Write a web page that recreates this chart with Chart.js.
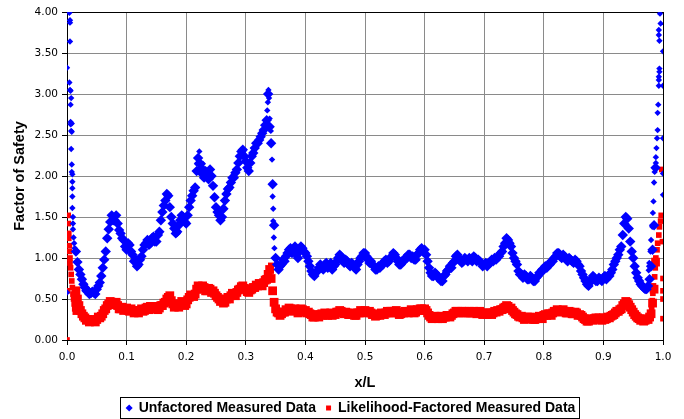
<!DOCTYPE html>
<html>
<head>
<meta charset="utf-8">
<script src="https://cdn.jsdelivr.net/npm/chart.js@4/dist/chart.umd.min.js"></script>
<style>
  body { margin: 0; background: #fff; }
</style>
</head>
<body>
<canvas id="myChart" width="684" height="419"></canvas>
<script>
// x/L positions of the readings (two interleaved runs)
var xl = [
  0.015,0.02,0.025,0.03,0.035,0.04,0.045,0.05,0.055,0.06,
  0.065,0.07,0.075,0.08,0.085,0.09,0.095,0.1,0.105,0.11,
  0.115,0.12,0.125,0.13,0.135,0.14,0.145,0.15,0.155,0.16,
  0.165,0.17,0.175,0.18,0.185,0.19,0.195,0.2,0.205,0.21,
  0.215,0.22,0.225,0.23,0.235,0.24,0.245,0.25,0.255,0.26,
  0.265,0.27,0.275,0.28,0.285,0.29,0.295,0.3,0.305,0.31,
  0.315,0.32,0.325,0.33,0.335,0.34,0.345,0.35,0.355,0.36,
  0.365,0.37,0.375,0.38,0.385,0.39,0.395,0.4,0.405,0.41,
  0.415,0.42,0.425,0.43,0.435,0.44,0.445,0.45,0.455,0.46,
  0.465,0.47,0.475,0.48,0.485,0.49,0.495,0.5,0.505,0.51,
  0.515,0.52,0.525,0.53,0.535,0.54,0.545,0.55,0.555,0.56,
  0.565,0.57,0.575,0.58,0.585,0.59,0.595,0.6,0.605,0.61,
  0.615,0.62,0.625,0.63,0.635,0.64,0.645,0.65,0.655,0.66,
  0.665,0.67,0.675,0.68,0.685,0.69,0.695,0.7,0.705,0.71,
  0.715,0.72,0.725,0.73,0.735,0.74,0.745,0.75,0.755,0.76,
  0.765,0.77,0.775,0.78,0.785,0.79,0.795,0.8,0.805,0.81,
  0.815,0.82,0.825,0.83,0.835,0.84,0.845,0.85,0.855,0.86,
  0.865,0.87,0.875,0.88,0.885,0.89,0.895,0.9,0.905,0.91,
  0.915,0.92,0.925,0.93,0.935,0.94,0.945,0.95,0.955,0.96,
  0.965,0.97,0.975,0.98,0.985
];
var xl2 = [
  0.0175,0.0225,0.0275,0.0325,0.0375,0.0425,0.0475,0.0525,0.0575,0.0625,
  0.0675,0.0725,0.0775,0.0825,0.0875,0.0925,0.0975,0.1025,0.1075,0.1125,
  0.1175,0.1225,0.1275,0.1325,0.1375,0.1425,0.1475,0.1525,0.1575,0.1625,
  0.1675,0.1725,0.1775,0.1825,0.1875,0.1925,0.1975,0.2025,0.2075,0.2125,
  0.2175,0.2225,0.2275,0.2325,0.2375,0.2425,0.2475,0.2525,0.2575,0.2625,
  0.2675,0.2725,0.2775,0.2825,0.2875,0.2925,0.2975,0.3025,0.3075,0.3125,
  0.3175,0.3225,0.3275,0.3325,0.3375,0.3425,0.3475,0.3525,0.3575,0.3625,
  0.3675,0.3725,0.3775,0.3825,0.3875,0.3925,0.3975,0.4025,0.4075,0.4125,
  0.4175,0.4225,0.4275,0.4325,0.4375,0.4425,0.4475,0.4525,0.4575,0.4625,
  0.4675,0.4725,0.4775,0.4825,0.4875,0.4925,0.4975,0.5025,0.5075,0.5125,
  0.5175,0.5225,0.5275,0.5325,0.5375,0.5425,0.5475,0.5525,0.5575,0.5625,
  0.5675,0.5725,0.5775,0.5825,0.5875,0.5925,0.5975,0.6025,0.6075,0.6125,
  0.6175,0.6225,0.6275,0.6325,0.6375,0.6425,0.6475,0.6525,0.6575,0.6625,
  0.6675,0.6725,0.6775,0.6825,0.6875,0.6925,0.6975,0.7025,0.7075,0.7125,
  0.7175,0.7225,0.7275,0.7325,0.7375,0.7425,0.7475,0.7525,0.7575,0.7625,
  0.7675,0.7725,0.7775,0.7825,0.7875,0.7925,0.7975,0.8025,0.8075,0.8125,
  0.8175,0.8225,0.8275,0.8325,0.8375,0.8425,0.8475,0.8525,0.8575,0.8625,
  0.8675,0.8725,0.8775,0.8825,0.8875,0.8925,0.8975,0.9025,0.9075,0.9125,
  0.9175,0.9225,0.9275,0.9325,0.9375,0.9425,0.9475,0.9525,0.9575,0.9625,
  0.9675,0.9725,0.9775,0.9825,0.9875
];

var unfactored = [
  1.08,0.86,0.74,0.64,0.60,0.57,0.58,0.62,0.70,0.88,
  1.08,1.35,1.52,1.46,1.42,1.30,1.22,1.10,1.16,1.04,
  0.98,0.92,1.02,1.16,1.22,1.18,1.26,1.20,1.32,1.56,
  1.70,1.76,1.50,1.36,1.32,1.46,1.50,1.42,1.62,1.76,
  1.86,2.22,2.10,1.98,2.00,2.08,1.88,1.62,1.52,1.50,
  1.70,1.84,1.92,1.98,2.08,2.24,2.32,2.18,2.06,2.24,
  2.34,2.40,2.48,2.56,2.68,2.60,1.90,1.00,0.86,0.92,
  0.96,1.06,1.12,1.10,1.04,1.08,1.12,1.06,0.96,0.84,
  0.78,0.84,0.92,0.86,0.94,0.90,0.86,0.92,1.00,1.02,
  0.94,0.96,0.90,0.92,0.86,0.96,1.02,1.06,0.98,0.96,
  0.90,0.86,0.88,0.92,0.98,0.96,1.02,1.04,0.96,0.92,
  0.96,1.00,1.04,1.02,0.98,1.06,1.12,1.10,0.96,0.82,
  0.78,0.80,0.76,0.72,0.80,0.86,0.88,0.96,1.04,0.98,
  0.96,0.98,1.00,0.96,1.00,0.98,0.94,0.92,0.90,0.94,
  0.96,0.98,1.02,1.08,1.18,1.22,1.14,1.00,0.92,0.80,
  0.76,0.78,0.74,0.76,0.72,0.78,0.82,0.86,0.88,0.92,
  0.96,1.02,1.06,1.00,1.02,0.96,0.98,0.94,0.96,0.90,
  0.80,0.72,0.66,0.74,0.76,0.72,0.74,0.76,0.74,0.78,
  0.86,0.96,1.04,1.14,1.42,1.48,1.20,1.00,0.82,0.72,
  0.66,0.62,0.66,0.90,1.40
];
var unfactored2 = [
  0.95,0.80,0.68,0.60,0.56,0.59,0.56,0.66,0.78,0.98,
  1.24,1.44,1.46,1.52,1.34,1.24,1.14,1.18,1.08,0.96,
  0.90,0.98,1.10,1.18,1.16,1.24,1.20,1.28,1.46,1.64,
  1.78,1.62,1.42,1.30,1.40,1.52,1.44,1.52,1.70,1.82,
  2.06,2.16,2.02,2.06,1.96,2.00,1.74,1.56,1.46,1.60,
  1.78,1.86,1.98,2.04,2.16,2.30,2.24,2.10,2.16,2.28,
  2.40,2.44,2.52,2.62,3.00,2.40,1.40,0.92,0.90,0.98,
  1.02,1.10,1.06,1.14,1.00,1.14,1.08,1.02,0.90,0.80,
  0.82,0.88,0.88,0.92,0.88,0.94,0.90,0.96,1.04,0.98,
  0.98,0.92,0.94,0.88,0.92,1.00,1.06,1.02,0.94,0.92,
  0.86,0.90,0.92,0.96,0.94,1.00,1.06,1.00,0.92,0.96,
  1.00,1.04,1.00,0.98,1.04,1.10,1.08,1.04,0.88,0.78,
  0.82,0.76,0.72,0.78,0.84,0.90,0.94,1.02,1.00,0.94,
  1.00,0.96,0.98,1.02,0.96,0.96,0.90,0.94,0.94,0.98,
  1.00,1.02,1.06,1.14,1.24,1.18,1.06,0.96,0.84,0.80,
  0.80,0.74,0.78,0.72,0.76,0.82,0.86,0.90,0.92,0.96,
  1.00,1.06,1.02,1.04,0.98,1.00,0.96,0.98,0.92,0.84,
  0.76,0.68,0.70,0.78,0.72,0.76,0.72,0.78,0.78,0.82,
  0.92,1.00,1.10,1.28,1.50,1.36,1.08,0.90,0.76,0.68,
  0.64,0.62,0.74,1.10,2.10
];

var factored = [
  0.60,0.42,0.32,0.27,0.25,0.23,0.24,0.25,0.27,0.32,
  0.38,0.44,0.46,0.44,0.42,0.38,0.36,0.39,0.35,0.36,
  0.34,0.33,0.38,0.36,0.40,0.41,0.38,0.40,0.39,0.42,
  0.46,0.52,0.48,0.40,0.42,0.44,0.45,0.44,0.52,0.54,
  0.56,0.66,0.62,0.64,0.60,0.62,0.60,0.54,0.50,0.48,
  0.46,0.52,0.54,0.56,0.58,0.62,0.66,0.62,0.58,0.62,
  0.64,0.66,0.68,0.70,0.74,0.86,0.60,0.38,0.33,0.32,
  0.34,0.36,0.38,0.37,0.36,0.35,0.37,0.36,0.34,0.31,
  0.28,0.30,0.31,0.30,0.32,0.31,0.30,0.31,0.34,0.35,
  0.32,0.33,0.31,0.32,0.30,0.33,0.35,0.36,0.34,0.33,
  0.31,0.30,0.30,0.32,0.33,0.33,0.35,0.35,0.33,0.32,
  0.33,0.34,0.35,0.35,0.34,0.36,0.38,0.38,0.33,0.28,
  0.27,0.28,0.27,0.26,0.28,0.30,0.30,0.33,0.35,0.34,
  0.33,0.34,0.35,0.33,0.34,0.34,0.33,0.32,0.31,0.33,
  0.33,0.34,0.35,0.37,0.40,0.41,0.39,0.34,0.31,0.28,
  0.27,0.27,0.26,0.27,0.25,0.27,0.28,0.30,0.30,0.32,
  0.33,0.35,0.36,0.35,0.35,0.33,0.34,0.32,0.33,0.31,
  0.28,0.25,0.23,0.26,0.26,0.25,0.26,0.27,0.26,0.27,
  0.30,0.33,0.35,0.38,0.44,0.46,0.40,0.34,0.29,0.26,
  0.25,0.24,0.25,0.32,0.62
];
var factored2 = [
  0.50,0.36,0.29,0.24,0.22,0.25,0.22,0.28,0.29,0.36,
  0.42,0.47,0.43,0.46,0.38,0.40,0.38,0.36,0.38,0.33,
  0.36,0.36,0.35,0.39,0.37,0.39,0.41,0.37,0.42,0.45,
  0.50,0.54,0.44,0.43,0.40,0.47,0.42,0.49,0.55,0.53,
  0.62,0.64,0.66,0.60,0.63,0.58,0.57,0.52,0.47,0.45,
  0.50,0.50,0.57,0.54,0.61,0.65,0.63,0.59,0.61,0.64,
  0.67,0.69,0.66,0.73,0.80,0.75,0.46,0.34,0.30,0.34,
  0.37,0.39,0.35,0.38,0.33,0.38,0.34,0.33,0.32,0.28,
  0.31,0.28,0.32,0.33,0.30,0.33,0.32,0.34,0.36,0.33,
  0.34,0.31,0.33,0.30,0.33,0.36,0.34,0.33,0.35,0.31,
  0.29,0.32,0.33,0.31,0.35,0.35,0.33,0.36,0.31,0.34,
  0.35,0.33,0.37,0.33,0.37,0.38,0.36,0.36,0.30,0.26,
  0.29,0.26,0.29,0.28,0.30,0.28,0.32,0.35,0.33,0.35,
  0.35,0.33,0.33,0.35,0.32,0.35,0.31,0.33,0.33,0.31,
  0.35,0.36,0.37,0.39,0.42,0.38,0.36,0.32,0.29,0.29,
  0.25,0.28,0.28,0.25,0.27,0.29,0.26,0.31,0.32,0.30,
  0.35,0.37,0.34,0.37,0.33,0.35,0.32,0.34,0.30,0.30,
  0.26,0.23,0.25,0.24,0.27,0.27,0.24,0.25,0.28,0.29,
  0.31,0.35,0.37,0.42,0.47,0.43,0.37,0.31,0.27,0.24,
  0.23,0.26,0.28,0.45,0.95
];

// steep ends of the beam and the jump near x/L = 0.34, read point by point
var unfExtraX = [0.000,0.000,0.004,0.005,0.005,0.005,0.004,0.005,0.006,0.007,0.006,0.006,0.006,0.007,0.007,0.008,0.008,0.008,0.008,0.009,0.009,0.009,0.009,0.009,0.010,0.010,0.010,0.011,0.012,0.013,
  0.218,0.222,0.228,0.336,0.337,0.338,0.339,0.340,0.342,0.344,0.345,0.346,0.346,0.347,0.348,
  0.976,0.977,0.979,0.980,0.982,0.983,0.984,0.985,0.986,0.988,0.988,0.989,0.990,0.991,0.991,0.992,0.993,0.993,0.993,0.994,0.994,0.994,0.993,0.993,0.996,0.995,1.000,1.000,1.000,1.000,1.000];
var unfExtraY = [3.32,0.58,3.99,3.90,3.87,3.64,3.14,3.05,3.04,2.95,2.87,2.66,2.63,2.55,2.33,2.64,2.54,2.14,2.05,2.02,1.93,1.85,1.75,1.61,1.50,1.42,1.35,1.25,1.18,1.12,
  2.15,2.30,2.15,2.80,2.90,3.05,2.95,2.70,2.55,2.20,1.75,1.60,1.45,1.25,1.12,
  0.85,0.94,1.08,1.22,1.38,1.55,1.69,1.92,2.05,2.16,2.23,2.34,2.46,2.56,2.77,2.87,3.10,3.17,3.21,3.27,3.31,3.65,3.72,3.78,3.86,3.98,3.52,3.10,2.46,2.03,1.77];

var facExtraX = [0.000,0.001,0.002,0.002,0.003,0.003,0.004,0.004,0.005,0.005,0.006,0.007,0.008,0.009,0.010,0.011,0.012,0.013,0.014,
  0.342,
  0.980,0.981,0.982,0.983,0.984,0.986,0.987,0.988,0.990,0.991,0.993,0.994,0.996,0.997,0.998,1.000,1.000,1.000,1.000,0.999];
var facExtraY = [0.00,0.60,1.52,1.42,1.30,1.24,1.15,1.08,1.00,0.94,0.88,0.80,0.72,0.64,0.56,0.50,0.44,0.38,0.34,
  0.91,
  0.32,0.40,0.48,0.57,0.66,0.77,0.88,1.00,1.10,1.18,1.28,1.38,1.45,1.52,2.08,0.26,0.50,0.60,0.75,1.20];

var xTicks = [0, 0.1, 0.2, 0.3, 0.4, 0.5, 0.6, 0.7, 0.8, 0.9, 1.0];
var yTicks = [0, 0.5, 1, 1.5, 2, 2.5, 3, 3.5, 4];

function pts(xs, ys) {
  var out = [];
  for (var i = 0; i < xs.length; i++) out.push({x: xs[i], y: ys[i]});
  return out;
}

// dense runs get fat markers so the band fills in, lone points stay small
var bandCount = xl.length + xl2.length;
function markerSize(big, small) {
  return function(c) { return c.dataIndex < bandCount ? big : small; };
}

Chart.defaults.font.family = "'Liberation Sans', Arial, sans-serif";
Chart.defaults.color = '#000';

// legend sits a bit lower and right of where Chart.js puts it
var LEGEND_DY = 7, LEGEND_DX = 15;

// frame round the plot area + box round the legend
var framePlugin = {
  id: 'frame',
  afterLayout: function(chart) {
    var lg = chart.legend;
    lg.top += LEGEND_DY; lg.bottom += LEGEND_DY;
    lg.left += LEGEND_DX; lg.right += LEGEND_DX;
  },
  beforeDatasetsDraw: function(chart) {
    var a = chart.chartArea, c = chart.ctx;
    c.save();
    c.strokeStyle = '#000';
    c.lineWidth = 1;
    c.strokeRect(a.left + 0.5, a.top + 0.5, a.right - a.left, a.bottom - a.top);
    c.restore();
  },
  afterDraw: function(chart) {
    var hb = chart.legend.legendHitBoxes;
    if (!hb || !hb.length) return;
    var l = hb[0].left, r = hb[0].left + hb[0].width;
    for (var i = 1; i < hb.length; i++) {
      l = Math.min(l, hb[i].left);
      r = Math.max(r, hb[i].left + hb[i].width);
    }
    var c = chart.ctx;
    c.save();
    c.strokeStyle = '#000';
    c.lineWidth = 1;
    var cy = hb[0].top + hb[0].height / 2;
    c.strokeRect(Math.round(l) - 6.5, Math.round(cy - 11) + 0.5, Math.round(r - l) + 10, 21);
    c.restore();
  }
};

var ctx = document.getElementById('myChart').getContext('2d');
var myChart = new Chart(ctx, {
  type: 'scatter',
  data: {
    datasets: [{
      label: 'Unfactored Measured Data',
      data: pts(xl, unfactored).concat(pts(xl2, unfactored2), pts(unfExtraX, unfExtraY)),
      pointStyle: 'rectRot',
      pointRadius: markerSize(5.2, 3.2),
      backgroundColor: '#0000ff',
      borderColor: '#0000ff',
      borderWidth: 0
    }, {
      label: 'Likelihood-Factored Measured Data',
      data: pts(xl, factored).concat(pts(xl2, factored2), pts(facExtraX, facExtraY)),
      pointStyle: 'rect',
      pointRadius: markerSize(6.2, 4),
      backgroundColor: '#ff0000',
      borderColor: '#ff0000',
      borderWidth: 0
    }]
  },
  plugins: [framePlugin],
  options: {
    responsive: false,
    animation: false,
    layout: { padding: { left: 9, top: 12, right: 21, bottom: 1 } },
    plugins: {
      tooltip: { enabled: false },
      legend: {
        position: 'bottom',
        labels: {
          usePointStyle: true,
          boxWidth: 5,
          boxHeight: 5,
          padding: 10,
          font: { size: 14, weight: 'bold' },
          color: '#000'
        }
      }
    },
    scales: {
      x: {
        type: 'linear',
        min: 0,
        max: 1,
        afterBuildTicks: function(s) { s.ticks = xTicks.map(function(v) { return {value: v}; }); },
        ticks: {
          callback: function(v) { return v.toFixed(1); },
          font: { family: "'DejaVu Sans', sans-serif", size: 10.5 },
          padding: 6,
          maxRotation: 0
        },
        grid: { color: '#8a8a8a', tickColor: '#000', tickLength: 5 },
        border: { color: '#000' },
        title: { display: true, text: 'x/L', font: { size: 14.5, weight: 'bold' }, padding: { top: 8, bottom: -8 } },
        afterFit: function(s) { s.height = 44; }
      },
      y: {
        min: 0,
        max: 4,
        afterBuildTicks: function(s) { s.ticks = yTicks.map(function(v) { return {value: v}; }); },
        ticks: {
          callback: function(v) { return v.toFixed(2); },
          font: { family: "'DejaVu Sans', sans-serif", size: 10.5 },
          padding: 4
        },
        grid: { color: '#8a8a8a', tickColor: '#000', tickLength: 5 },
        border: { color: '#000' },
        title: { display: true, text: 'Factor of Safety', font: { size: 14.5, weight: 'bold' }, padding: { top: 2, bottom: 6 } },
        afterFit: function(s) { s.width = 58; }
      }
    }
  }
});
</script>
</body>
</html>
